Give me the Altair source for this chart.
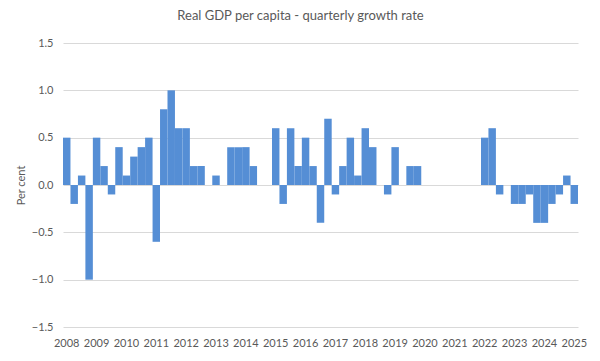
import altair as alt
import pandas as pd

years = list(range(2008, 2026))
values = [
    0.5, -0.2, 0.1, -1.0,   # 2008
    0.5, 0.2, -0.1, 0.4,    # 2009
    0.1, 0.3, 0.4, 0.5,     # 2010
    -0.6, 0.8, 1.0, 0.6,    # 2011
    0.6, 0.2, 0.2, 0.0,     # 2012
    0.1, 0.0, 0.4, 0.4,     # 2013
    0.4, 0.2, 0.0, 0.0,     # 2014
    0.6, -0.2, 0.6, 0.2,    # 2015
    0.5, 0.2, -0.4, 0.7,    # 2016
    -0.1, 0.2, 0.5, 0.1,    # 2017
    0.6, 0.4, 0.0, -0.1,    # 2018
    0.4, 0.0, 0.2, 0.2,     # 2019
    0.0, 0.0, 0.0, 0.0,     # 2020
    0.0, 0.0, 0.0, 0.0,     # 2021
    0.5, 0.6, -0.1, 0.0,    # 2022
    -0.2, -0.2, -0.1, -0.4, # 2023
    -0.4, -0.2, -0.1, 0.1,  # 2024
    -0.2,                   # 2025
]
quarters = [f"{y}-Q{q}" for y in years for q in range(1, 5)][: len(values)]

df = pd.DataFrame({"quarter": quarters, "growth": values})

font = "Lato"
grey = "#595959"

chart = (
    alt.Chart(df)
    .mark_bar(color="#558ED5", strokeWidth=0)
    .encode(
        x=alt.X(
            "quarter:N",
            sort=None,
            scale=alt.Scale(paddingInner=0, paddingOuter=0),
            axis=alt.Axis(
                title=None,
                labelAngle=0,
                labelExpr="indexof(datum.value, 'Q1') > 0 ? slice(datum.value, 0, 4) : ''",
                labelOverlap=False,
                domain=False,
                ticks=False,
                grid=False,
                labelPadding=10,
                labelFont=font,
                labelFontSize=11,
                labelColor=grey,
            ),
        ),
        y=alt.Y(
            "growth:Q",
            scale=alt.Scale(domain=[-1.5, 1.5], nice=False),
            axis=alt.Axis(
                title="Per cent",
                values=[-1.5, -1.0, -0.5, 0.0, 0.5, 1.0, 1.5],
                format=".1f",
                domain=False,
                ticks=False,
                labelPadding=10,
                labelFont=font,
                labelFontSize=11,
                labelColor=grey,
                titleFont=font,
                titleFontSize=11,
                titleFontWeight="normal",
                titleColor=grey,
                titleX=-37,
                titleY=142,
                gridColor="#d9d9d9",
                gridWidth=1,
            ),
        ),
    )
    .properties(
        width=515,
        height=284,
        autosize=alt.AutoSizeParams(type="none"),
        padding={"left": 55, "top": 35, "right": 12, "bottom": 26},
        title=alt.TitleParams(
            "Real GDP per capita - quarterly growth rate",
            font=font,
            fontSize=13,
            fontWeight="normal",
            color=grey,
            dx=-20,
            offset=14,
        ),
    )
    .configure_view(stroke=None)
)

chart.save("out.html", embed_options={"renderer": "svg", "actions": False})
